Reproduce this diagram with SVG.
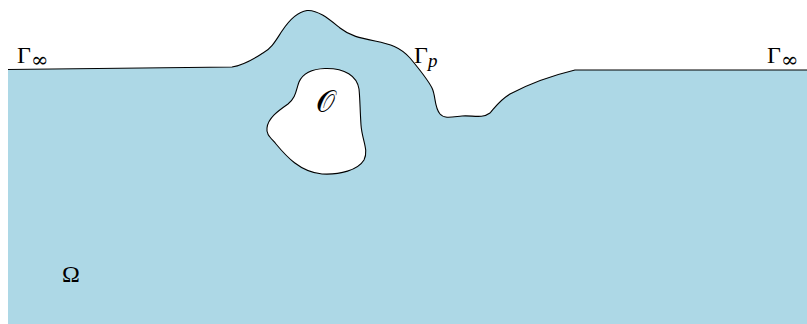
<svg xmlns="http://www.w3.org/2000/svg" width="807" height="324" viewBox="0 0 807 324">
<style>
.dom{fill:#add8e6;stroke:none}
.bd{fill:none;stroke:#000;stroke-width:1.1}
.hole{fill:#fff;stroke:#000;stroke-width:1.1}
.lbl{font-family:"Liberation Serif","DejaVu Serif",serif;font-size:24px;fill:#000}
.sub{font-family:"DejaVu Serif","Liberation Serif",serif;font-size:21px}
.subp{font-family:"Liberation Serif",serif;font-size:19px;font-style:italic}
.cal{font-family:"DejaVu Serif",serif;font-size:30px;fill:#000}
</style>
<g id="domain">
<path class="dom" d="M8,69.5 L232,67 C245,65 255,58 263,53 C272,48 276,40 282,31 C288,22 296,12 307,10.5 C318,9.5 330,20 340,28 C350,36 360,38 375,41 C390,44 400,47 410,58 C420,70 428,80 432,88 C436,96 434,107 440,114 C444,119 452,117 462,116 C472,115 482,119 490,113 C496,106 500,100 510,94 C525,86 550,76 575,70 L807,70 L807,324 L8,324 Z"/>
<path class="bd" d="M8,69.5 L232,67 C245,65 255,58 263,53 C272,48 276,40 282,31 C288,22 296,12 307,10.5 C318,9.5 330,20 340,28 C350,36 360,38 375,41 C390,44 400,47 410,58 C420,70 428,80 432,88 C436,96 434,107 440,114 C444,119 452,117 462,116 C472,115 482,119 490,113 C496,106 500,100 510,94 C525,86 550,76 575,70 L807,70"/>
</g>
<g id="obstacle">
<path class="hole" d="M325,68.5 C312,69 303,73 299,82 C296,90 296,98 288,104 C278,111 268,118 267,128 C266,134 270,137 276,144 C286,156 300,172 322,174 C340,175 358,170 364,160 C369,150 362,140 361,125 C360,110 360,98 359,89 C357,76 345,68 325,68.5 Z"/>
<text class="cal" x="316" y="112">𝒪</text>
</g>
<g id="labels">
<text class="lbl" x="17" y="63">Γ<tspan class="sub" dy="4">∞</tspan></text>
<text class="lbl" x="414" y="63">Γ<tspan class="subp" dy="4">p</tspan></text>
<text class="lbl" x="767" y="63">Γ<tspan class="sub" dy="4">∞</tspan></text>
<text class="lbl" x="62" y="282">Ω</text>
</g>
</svg>
